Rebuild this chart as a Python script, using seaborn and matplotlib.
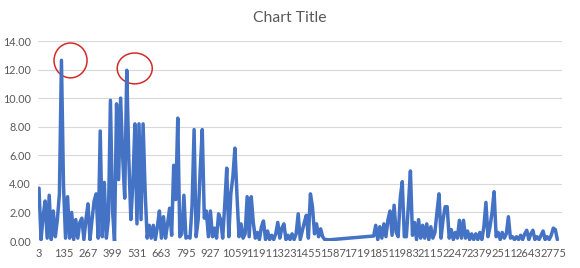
import numpy as np
import pandas as pd
import matplotlib
matplotlib.use("Agg")
import matplotlib.pyplot as plt
from matplotlib.patches import Ellipse
import seaborn as sns

rows_a_start, rows_b_start, row_step = 3, 1807, 11
values_a = [
    3.7, 0.1, 1.7, 2.8, 0.2, 3.2, 0.1, 2.1, 0.3, 1.5,
    3.3, 12.65, 3.9, 0.2, 3.1, 0.2, 2.0, 0.1, 1.5, 0.2,
    1.3, 1.6, 0.1, 1.5, 2.6, 0.1, 1.5, 2.8, 3.3, 0.2,
    7.7, 0.3, 4.1, 0.2, 1.5, 9.85, 2.2, 0.0, 9.6, 4.3,
    10.0, 5.9, 3.0, 11.95, 5.8, 1.5, 4.0, 8.2, 1.2, 8.2,
    1.5, 8.2, 3.5, 0.2, 1.1, 0.2, 1.1, 0.1, 1.0, 2.1,
    0.2, 1.7, 0.2, 1.2, 2.3, 0.4, 5.3, 2.9, 8.6, 0.3,
    0.5, 3.2, 0.2, 0.3, 0.2, 2.5, 7.8, 0.3, 1.5, 5.0,
    7.8, 1.6, 2.1, 0.3, 2.1, 0.3, 0.9, 0.2, 1.9, 1.5,
    0.2, 2.5, 5.1, 0.3, 3.3, 4.5, 6.5, 3.2, 0.3, 1.2,
    0.2, 0.5, 3.1, 0.3, 3.1, 1.3, 0.2, 0.6, 0.1, 1.0,
    1.4, 0.1, 0.7, 0.1, 0.4, 0.1, 0.5, 1.3, 0.2, 0.9,
    1.2, 0.1, 0.4, 0.1, 0.5, 0.1, 0.5, 1.9, 0.1, 0.7,
    1.3, 1.8, 0.2, 3.3, 2.4, 0.5, 1.2, 0.3, 0.85, 0.3,
    0.1, 0.1, 0.08,
]
values_b = [
    0.35, 1.1, 0.1, 1.0, 0.2, 1.2, 0.3, 1.5, 2.1, 0.4,
    2.5, 0.6, 0.3, 3.0, 4.15, 0.3, 0.3, 2.5, 4.9, 0.4,
    1.3, 0.1, 1.5, 0.2, 1.1, 0.2, 1.2, 0.1, 1.0, 0.2,
    0.6, 2.0, 3.3, 0.2, 1.5, 2.4, 2.4, 0.2, 0.8, 0.1,
    0.6, 0.2, 1.45, 0.2, 1.45, 0.2, 0.7, 0.1, 0.5, 0.1,
    0.5, 0.1, 0.6, 0.1, 1.0, 2.7, 0.3, 1.0, 2.0, 3.45,
    0.3, 0.6, 0.1, 0.6, 0.2, 0.5, 1.7, 0.2, 0.3, 0.1,
    0.3, 0.1, 0.4, 0.1, 0.5, 0.75, 0.1, 0.5, 0.75, 0.1,
    0.3, 0.1, 0.4, 0.7, 0.1, 0.3, 0.1, 0.4, 0.9, 0.8, 0.1,
]
tick_rows = [3, 135, 267, 399, 531, 663, 795, 927, 1059, 1191, 1323,
             1455, 1587, 1719, 1851, 1983, 2115, 2247, 2379, 2511, 2643, 2775]
y_ticks = [0, 2, 4, 6, 8, 10, 12, 14]
highlight_rows = [173, 519]
highlight_vals = [12.64, 12.08]

rows_a = [rows_a_start + row_step * i for i in range(len(values_a))]
rows_b = [rows_b_start + row_step * i for i in range(len(values_b))]
df = pd.DataFrame({"row": rows_a + rows_b, "value": values_a + values_b})

sns.set_style("white")
plt.rcParams["font.family"] = ["Lato", "DejaVu Sans"]

W, H = 580, 268
fig = plt.figure(figsize=(W / 100, H / 100), dpi=100)
fig.patch.set_facecolor("white")
ax = fig.add_axes([38 / W, (H - 241) / H, 524 / W, 200 / H])

sns.lineplot(data=df, x="row", y="value", ax=ax, color="#4472C4",
             linewidth=2.5, estimator=None, sort=True)

ax.set_xlim(-2.4, 2822)
ax.set_ylim(0, 14)
ax.set_yticks(y_ticks)
ax.set_yticklabels([f"{v:.2f}" for v in y_ticks])
ax.set_xticks(tick_rows)
ax.set_xticklabels([str(t) for t in tick_rows])
ax.tick_params(axis="both", length=0, colors="#595959")
ax.tick_params(axis="x", pad=5, labelsize=8.0)
ax.tick_params(axis="y", pad=5, labelsize=7.8)
ax.yaxis.grid(True, color="#D9D9D9", linewidth=0.8)
ax.set_axisbelow(True)
for s in ax.spines.values():
    s.set_visible(False)
ax.set_xlabel("")
ax.set_ylabel("")

for r, v, w, h in zip(highlight_rows, highlight_vals, [178, 189], [2.44, 2.16]):
    ax.add_patch(Ellipse((r, v), w, h, fill=False, edgecolor="#D42A2A",
                         linewidth=1.1, clip_on=False))

fig.text(0.5, 1 - 18 / H, "Chart Title", ha="center", va="center",
         fontsize=11.3, color="#595959")

fig.savefig("out.png", dpi=100, facecolor="white")
